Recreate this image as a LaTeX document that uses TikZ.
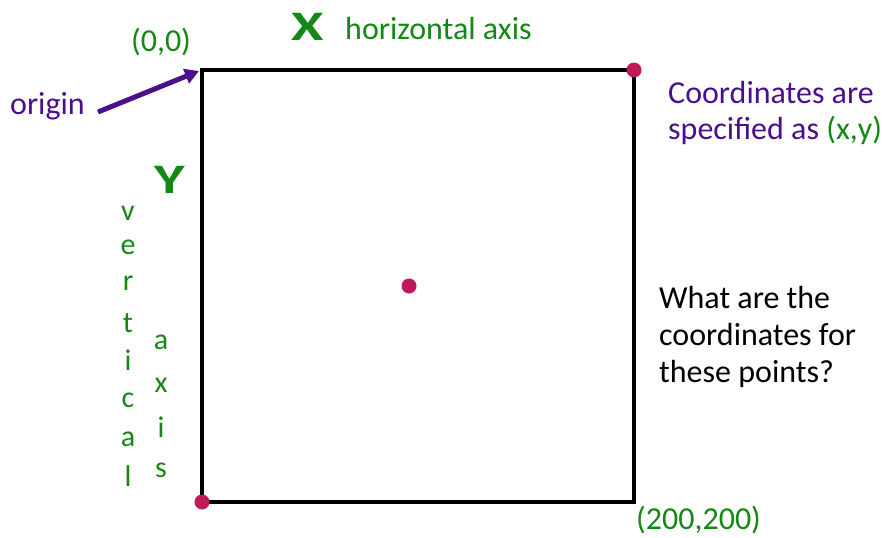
\documentclass[tikz,border=0pt]{standalone}
\usepackage{fontspec}
\setmainfont{Carlito}
\usetikzlibrary{arrows.meta}
\definecolor{grn}{RGB}{20,135,20}
\definecolor{prp}{RGB}{75,15,140}
\definecolor{dotc}{RGB}{192,24,90}
\tikzset{
  lbl/.style={inner sep=0pt, font=\fontsize{32}{37}\selectfont},
  glbl/.style={lbl, text=grn},
  plbl/.style={lbl, text=prp},
  bigl/.style={inner sep=0pt, text=grn, xscale=1.4, font=\fontsize{42}{46}\selectfont\bfseries},
  vl/.style={glbl, font=\fontsize{30}{36}\selectfont},
  pt/.style={circle, fill=dotc, inner sep=0pt, minimum size=15pt},
  frame/.style={line width=3.3pt, black},
  arr/.style={line width=5pt, prp, -{Triangle[length=14pt,width=15pt]}}
}
\begin{document}
\begin{tikzpicture}[x=1pt,y=-1pt]
\useasboundingbox (0,0) rectangle (884,538);
\coordinate (tl) at (202,70);
\coordinate (tr) at (634,70);
\coordinate (br) at (634,502);
\coordinate (bl) at (202,502);
\draw[frame] (tl) -- (tr) -- (br) -- (bl) -- cycle;
\node[pt] (p1) at (tr) {};
\node[pt] (p2) at (409,286) {};
\node[pt] (p3) at (bl) {};
\node[glbl] (zero) at (161,42) {(0,0)};
\node[bigl] (X) at (308,27) {X};
\node[glbl, anchor=west] (hax) at (345,29) {horizontal axis};
\node[plbl, anchor=west] (orig) at (10,106) {origin};
\coordinate (as) at (98,112);
\coordinate (ae) at (199,71);
\draw[arr] (as) -- (ae);
\node[plbl, anchor=west] (c1) at (668,93) {Coordinates are};
\node[plbl, anchor=west] (c2) at (668,130) {specified as \textcolor{grn}{(x,y)}};
\node[bigl] (Y) at (170,180) {Y};
\foreach \l/\yy [count=\i] in {v/213,e/247,r/283,t/323,i/360,c/400,a/439,l/476}
  \node[vl] (v\i) at (128,\yy) {\l};
\foreach \l/\yy [count=\i] in {a/342,x/385,i/427,s/470}
  \node[vl] (a\i) at (161,\yy) {\l};
\node[lbl, anchor=west, align=left, font=\fontsize{32}{37}\selectfont] (q) at (659,337) {What are the\\coordinates for\\these points?};
\node[glbl, anchor=west] (end) at (636,520) {(200,200)};
\end{tikzpicture}
\end{document}
